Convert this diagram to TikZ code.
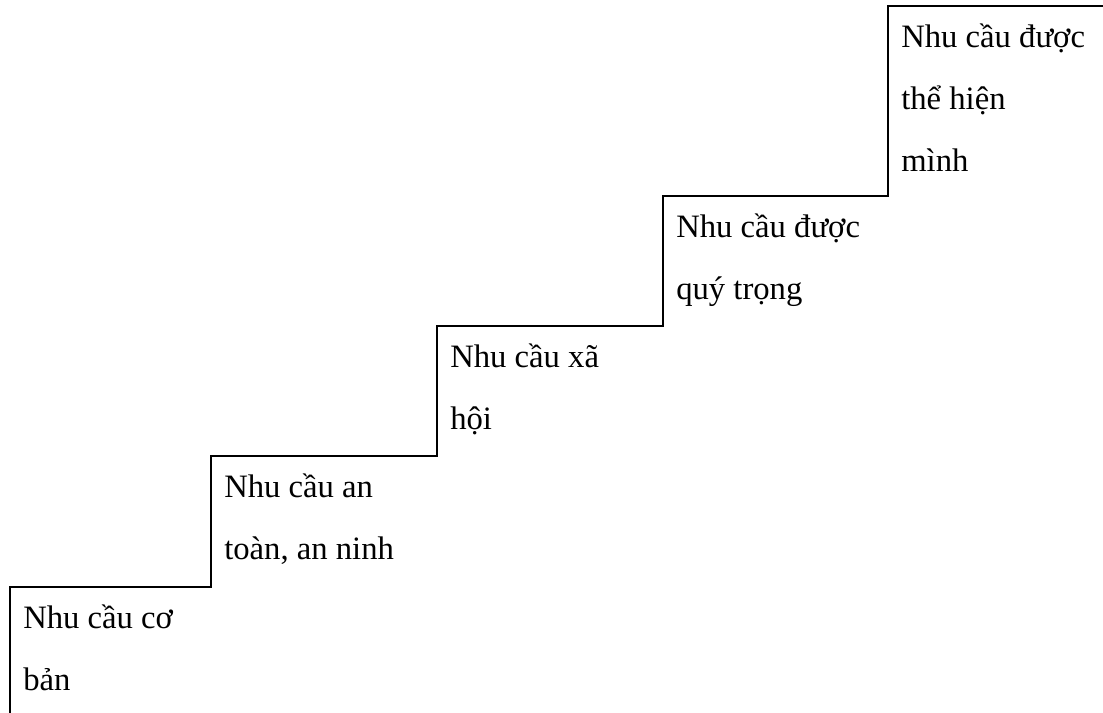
\documentclass[tikz,border=0pt]{standalone}
\usepackage{fontspec}
\setmainfont{Liberation Serif}
\usepackage{tikz}

\begin{document}
\begin{tikzpicture}[x=0.75pt, y=-0.75pt, line width=1.9pt,
    every node/.style={anchor=north west, align=left, inner sep=0pt,
      font=\fontsize{24.5}{46.5}\selectfont}]
    \useasboundingbox (0,0) rectangle (1103,713);
    % corners of the steps
    \coordinate (b0) at (10,713);
    \coordinate (s1) at (10,587);
    \coordinate (s2) at (211,456);
    \coordinate (s3) at (437,326);
    \coordinate (s4) at (663,196);
    \coordinate (s5) at (888,6);
    \coordinate (e0) at (1103,6);
    \draw (b0) -- (s1) -| (s2) -| (s3) -| (s4) -| (s5) -- (e0);
    % first baseline 40px below each step
    \node (coban) at ([shift={(12,-3.4)}]s1) {\strut Nhu cầu cơ\\bản};
    \node (antoan) at ([shift={(12,-3.4)}]s2) {\strut Nhu cầu an\\toàn, an ninh};
    \node (xahoi) at ([shift={(12,-3.4)}]s3) {\strut Nhu cầu xã\\hội};
    \node (quytrong) at ([shift={(12,-3.4)}]s4) {\strut Nhu cầu được\\quý trọng};
    \node (thehien) at ([shift={(12,-3.4)}]s5) {\strut Nhu cầu được\\thể hiện\\mình};
  \end{tikzpicture}
\end{document}
